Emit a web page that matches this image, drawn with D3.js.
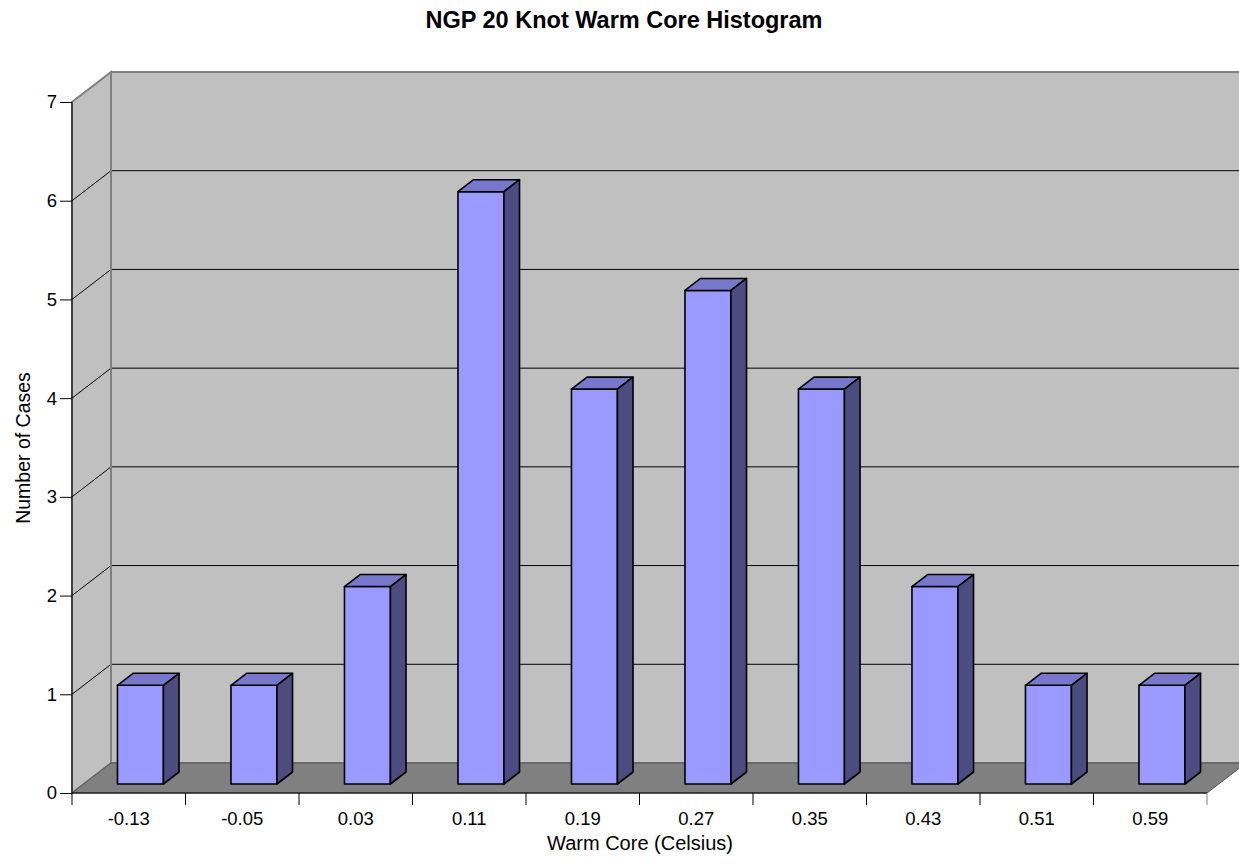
<!DOCTYPE html>
<meta charset="utf-8">
<head>
    <title>NGP 20 Knot Warm Core Histogram</title>
    <script type="text/javascript" src="https://d3js.org/d3.v7.min.js"></script>
    <style>
        body { margin: 0; background: #fff; }
        text { font-family: Arial, "Liberation Sans", sans-serif; fill: #000; }
    </style>
</head>
<body>
    <div id="chart"></div>
    <script>

        // data
        var categories = ["-0.13", "-0.05", "0.03", "0.11", "0.19", "0.27", "0.35", "0.43", "0.51", "0.59"];
        var counts = [1, 1, 2, 6, 4, 5, 4, 2, 1, 1];
        var yTicks = [0, 1, 2, 3, 4, 5, 6, 7];

        var width = 1239, height = 864;

        // front plane of the plot, and the depth offset of the back wall
        var x = d3.scaleBand().domain(categories).range([72, 1207]);
        var y = d3.scaleLinear().domain([0, 7]).range([793, 102]);
        var depthX = 39, depthY = -30;

        // point at depth fraction f (0 = front, 1 = back wall)
        function pt(px, py, f) { return [px + depthX * f, py + depthY * f]; }
        function poly(pts) { return pts.map(function(p){ return p.join(","); }).join(" "); }

        var svg = d3.select("#chart")
            .append("svg")
            .attr("width", width)
            .attr("height", height);

        var x0 = x.range()[0], x1 = x.range()[1];
        var y0 = y(0), yTop = y(7);

        // walls
        var walls = svg.append("g");
        // back wall
        walls.append("polygon")
            .attr("points", poly([pt(x0, yTop, 1), pt(x1, yTop, 1), pt(x1, y0, 1), pt(x0, y0, 1)]))
            .style("fill", "#c0c0c0")
            .style("stroke", "#808080")
            .style("stroke-width", 2);
        // side wall
        walls.append("polygon")
            .attr("points", poly([pt(x0, yTop, 0), pt(x0, yTop, 1), pt(x0, y0, 1), pt(x0, y0, 0)]))
            .style("fill", "#c0c0c0")
            .style("stroke", "#808080")
            .style("stroke-width", 2);

        // gridlines
        var grid = svg.append("g");
        yTicks.filter(function(v){ return v > 0 && v < 7; }).forEach(function(v){
            var a = pt(x0, y(v), 0), b = pt(x0, y(v), 1), c = pt(x1, y(v), 1);
            grid.append("polyline")
                .attr("points", poly([a, b, c]))
                .style("fill", "none")
                .style("stroke", "#000")
                .style("stroke-width", 1);
        });
        // back corner line drawn again over gridlines
        grid.append("line")
            .attr("x1", x0 + depthX).attr("y1", yTop + depthY)
            .attr("x2", x0 + depthX).attr("y2", y0 + depthY)
            .style("stroke", "#808080")
            .style("stroke-width", 2);

        // floor
        svg.append("polygon")
            .attr("points", poly([pt(x0, y0, 0), pt(x0, y0, 1), pt(x1, y0, 1), pt(x1, y0, 0)]))
            .style("fill", "#808080")
            .style("stroke", "#555")
            .style("stroke-width", 1);

        // bars
        var barFront = 0.3, barBack = 0.7, barWidth = 0.405;
        var bars = svg.append("g").selectAll("g")
            .data(categories.map(function(c, i){ return {cat: c, value: counts[i]}; }))
            .enter().append("g");

        bars.each(function(d){
            var g = d3.select(this);
            var bw = x.bandwidth() * barWidth;
            var cx = x(d.cat) + x.bandwidth() / 2;
            var l = cx - bw / 2, r = cx + bw / 2;
            var t = y(d.value), b = y(0);
            var f = function(px, py){ return pt(px, py, barFront); };
            var k = function(px, py){ return pt(px, py, barBack); };
            // front face
            g.append("polygon")
                .attr("points", poly([f(l, t), f(r, t), f(r, b), f(l, b)]))
                .style("fill", "#9999ff");
            // top face
            g.append("polygon")
                .attr("points", poly([f(l, t), k(l, t), k(r, t), f(r, t)]))
                .style("fill", "#7777cc");
            // side face
            g.append("polygon")
                .attr("points", poly([f(r, t), k(r, t), k(r, b), f(r, b)]))
                .style("fill", "#4c4c80");
            g.selectAll("polygon")
                .style("stroke", "#000")
                .style("stroke-width", 1.6)
                .style("stroke-linejoin", "round");
        });

        // y axis
        var yAxis = d3.axisLeft(y)
            .tickValues(yTicks)
            .tickSize(12)
            .tickPadding(3)
            .tickFormat(d3.format("d"));
        var gy = svg.append("g")
            .attr("transform", "translate(" + x0 + ",0)")
            .call(yAxis);
        gy.select(".domain").attr("d", "M0," + yTop + "V" + y0).style("stroke", "#000");
        gy.selectAll(".tick line").style("stroke", "#000");
        gy.selectAll(".tick text").style("font-size", "18.5px").attr("font-family", null);

        // x axis
        var xAxis = d3.axisBottom(x).tickSize(0).tickPadding(14);
        var gx = svg.append("g")
            .attr("transform", "translate(0," + y0 + ")")
            .call(xAxis);
        gx.select(".domain").attr("d", "M" + x0 + ",0H" + x1).style("stroke", "#000");
        gx.selectAll(".tick text").style("font-size", "18.5px").attr("font-family", null).attr("dy", "0.95em");
        // category boundary ticks
        gx.selectAll(".sep")
            .data(d3.range(categories.length + 1))
            .enter().append("line")
            .attr("x1", function(i){ return x0 + i * x.step(); })
            .attr("x2", function(i){ return x0 + i * x.step(); })
            .attr("y1", 0).attr("y2", 12)
            .style("stroke", function(i){ return i === categories.length ? "#808080" : "#000"; });

        // titles
        svg.append("text")
            .attr("x", 624).attr("y", 28)
            .attr("text-anchor", "middle")
            .style("font-size", "23.5px")
            .style("font-weight", "bold")
            .text("NGP 20 Knot Warm Core Histogram");

        svg.append("text")
            .attr("x", 640).attr("y", 850)
            .attr("text-anchor", "middle")
            .style("font-size", "20px")
            .text("Warm Core (Celsius)");

        svg.append("text")
            .attr("transform", "translate(30,448) rotate(-90)")
            .attr("text-anchor", "middle")
            .style("font-size", "19.5px")
            .text("Number of Cases");

    </script>
</body>
</html>
